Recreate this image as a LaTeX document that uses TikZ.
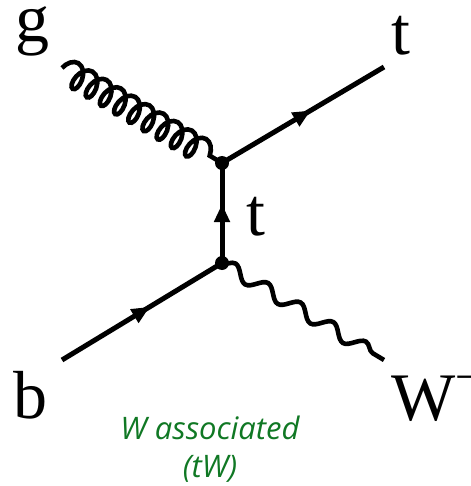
\documentclass[tikz,border=0pt]{standalone}
\usepackage{fontspec}
\setmainfont{Liberation Serif}
\newfontfamily\capfont{Open Sans}
\usetikzlibrary{decorations.pathmorphing,decorations.markings,arrows.meta}
\definecolor{capgreen}{RGB}{16,120,36}
\tikzset{
  fermion/.style={line width=5pt,
    postaction={decorate,decoration={markings,
      mark=at position 0.5 with {\arrow[xshift=9pt]{Triangle[length=18pt,width=15pt]}}}}},
  gluon/.style={line width=4.6pt,decorate,
    decoration={coil,amplitude=12.5pt,segment length=16.5pt,aspect=0.6}},
  boson/.style={line width=4.6pt,decorate,
    decoration={snake,amplitude=6.5pt,segment length=38pt}},
  vdot/.style={circle,fill=black,inner sep=0pt,minimum size=14pt},
  lab/.style={anchor=base west,inner sep=0pt,text height=44pt,font=\fontsize{68}{68}\selectfont},
  captext/.style={align=center,text=capgreen,inner sep=0pt,
    font=\capfont\itshape\fontsize{31}{38}\selectfont}
}
\begin{document}
\begin{tikzpicture}[x=1pt,y=-1pt]
\useasboundingbox (0,0) rectangle (470,486);
\coordinate (v1) at (222,163);
\coordinate (v2) at (222,263);
\coordinate (gs) at (62,68);
\coordinate (te) at (384,67);
\coordinate (bs) at (62,360);
\coordinate (we) at (384,360);
\draw[gluon] (gs) -- (v1);
\draw[fermion] (v1) -- (te);
\draw[fermion] (v2) -- (v1);
\draw[fermion] (bs) -- (v2);
\draw[boson] (v2) -- (we);
\node[vdot] (d1) at (v1) {};
\node[vdot] (d2) at (v2) {};
\node[lab,text height=30pt] (lg) at (15,42) {g};
\node[lab] (lt) at (391,55) {t};
\node[lab] (lb) at (13,418) {b};
\node[lab] (lm) at (246,235) {t};
\node[lab] (lw) at (391,420) {W\raisebox{28pt}{\fontsize{46}{46}\selectfont −}};
\node[captext] (caption) at (210,449) {W associated\\(tW)};
\end{tikzpicture}
\end{document}
